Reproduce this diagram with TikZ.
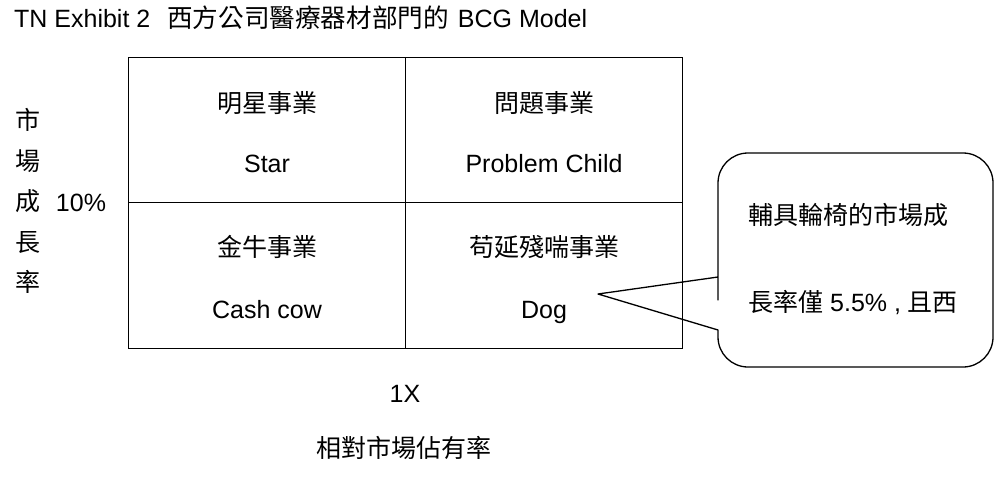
\documentclass[tikz,border=0pt]{standalone}
\usepackage{fontspec}
\setmainfont{Liberation Sans}
\newfontfamily\zhfont{Noto Sans CJK TC}
\newcommand\zh[1]{{\zhfont #1}}
\begin{document}
\begin{tikzpicture}[x=1pt,y=-1pt,
  every node/.style={font=\fontsize{25}{30}\selectfont, inner sep=0pt},
  cell/.style={draw, line width=1.3pt, minimum width=277pt, minimum height=145.5pt},
  txt/.style={anchor=base},
  calloutline/.style={draw, line width=1.3pt, line join=round}]
\useasboundingbox (0,0) rectangle (1000,476);

% title
\node[anchor=base west] (title) at (14,27.5) {TN Exhibit 2\hspace{17pt}{\zhfont\fontsize{25.6}{30}\selectfont 西方公司醫療器材部門的}\hspace{9pt}BCG Model};

% cells
\node[cell] (star) at (267,130) {};
\node[cell] (prob) at (544,130) {};
\node[cell] (cash) at (267,275.5) {};
\node[cell] (dog) at (544,275.5) {};

\node[txt] (tstarzh) at (267,112.5) {\zh{明星事業}};
\node[txt] (tstaren) at (267,172) {Star};
\node[txt] (tprobzh) at (544,112.5) {\zh{問題事業}};
\node[txt] (tproben) at (544,172) {Problem Child};
\node[txt] (tcashzh) at (267,256.5) {\zh{金牛事業}};
\node[txt] (tcashen) at (267,318) {Cash cow};
\node[txt] (tdogzh) at (544,256.5) {\zh{苟延殘喘事業}};
\node[txt] (tdogen) at (544,318) {Dog};

% vertical axis label
\node[txt] (v1) at (28,129.5) {\zh{市}};
\node[txt] (v2) at (28,170.5) {\zh{場}};
\node[txt] (v3) at (28,210.5) {\zh{成}};
\node[txt] (v4) at (28,251.5) {\zh{長}};
\node[txt] (v5) at (28,291.5) {\zh{率}};
\node[txt] (ten) at (81,211) {10\%};

% horizontal axis label
\node[txt] (onex) at (405,402) {1X};
\node[txt] (haxis) at (404,457.5) {\zh{相對市場佔有率}};

% callout
\coordinate (tip) at (598,294);
\draw[calloutline] (718,277) -- (tip) -- (718,330) -- (718,333) [rounded corners=30]
  -- (718,367) -- (993,367) -- (993,153) -- (718,153) -- (718,270) [sharp corners] -- cycle;
\node[anchor=base west] (c1) at (748,224.5) {\zh{輔具輪椅的市場成}};
\node[anchor=base west] (c2) at (748,311.5) {\zh{長率僅} 5.5\% , \zh{且西}};
\end{tikzpicture}
\end{document}
